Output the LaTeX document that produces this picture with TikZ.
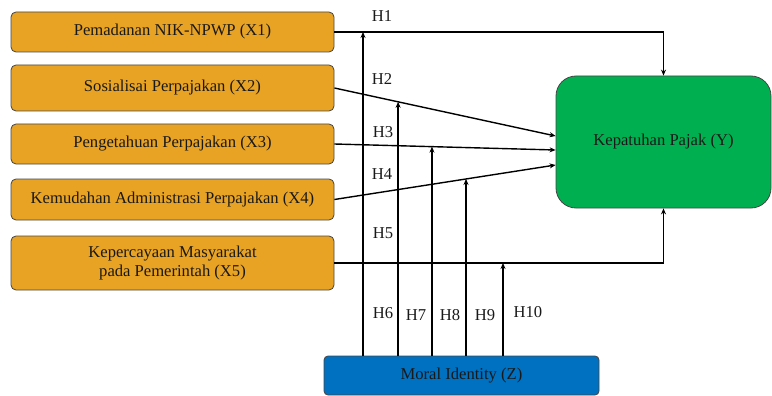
\documentclass[tikz,border=0pt]{standalone}
\usepackage{fontspec}
\setmainfont{Liberation Serif}
\usepackage{tikz}
\usetikzlibrary{positioning,arrows.meta,calc}
\definecolor{varorange}{RGB}{232,163,36}
\definecolor{depgreen}{RGB}{0,176,80}
\definecolor{modblue}{RGB}{0,112,192}
\definecolor{boxedge}{RGB}{70,70,70}
\tikzset{
  xbox/.style  = {draw=boxedge, line width=0.8pt, rounded corners=5pt, fill=varorange, align=center, minimum width=323pt, inner sep=2pt},
  ybox/.style  = {draw=boxedge, line width=0.8pt, rounded corners=20pt, fill=depgreen, minimum width=215pt, minimum height=132pt},
  zbox/.style  = {draw=boxedge, line width=0.8pt, rounded corners=4pt, fill=modblue, minimum width=275pt, minimum height=39pt},
  flow/.style  = {-{Stealth[length=6pt,width=5pt]}, line width=1.4pt, draw=black},
  hyp/.style   = {inner sep=0pt},
}

\begin{document}
\begin{tikzpicture}[x=1pt, y=-1pt, font=\rmfamily\fontsize{16.6}{19.5}\selectfont, text=black!90]
  \useasboundingbox (0,0) rectangle (772,396);
  % variables
  \node[xbox, minimum height=40pt] (x1) at (172.5,32) {Pemadanan NIK-NPWP (X1)};
  \node[xbox, minimum height=46pt] (x2) at (172.5,88) {Sosialisai Perpajakan (X2)};
  \node[xbox, minimum height=40pt] (x3) at (172.5,144) {Pengetahuan Perpajakan (X3)};
  \node[xbox, minimum height=41pt] (x4) at (172.5,199.5) {Kemudahan Administrasi Perpajakan (X4)};
  \node[xbox, minimum height=54pt] (x5) at (172.5,263) {Kepercayaan Masyarakat\\pada Pemerintah (X5)};
  \node[ybox] (y) at (663.5,142) {Kepatuhan Pajak (Y)};
  \node[zbox] (z) at (461.5,375.5) {Moral Identity (Z)};
  % direct paths
  \draw[flow] (x1.east) -| (y.north);
  \draw[flow] (x2.east) -- ([yshift=6pt]y.west);
  \draw[flow] (x3.east) -- ([yshift=-8pt]y.west);
  \draw[flow] (x4.east) -- ([yshift=-23pt]y.west);
  \draw[flow] (x5.east) -| (y.south);
  % moderation points
  \coordinate (m1) at (x1.east -| 363,0);
  \path (x2.east) -- ([yshift=6pt]y.west) coordinate[pos=0.288] (m2);
  \path (x3.east) -- ([yshift=-8pt]y.west) coordinate[pos=0.441] (m3);
  \path (x4.east) -- ([yshift=-23pt]y.west) coordinate[pos=0.595] (m4);
  \coordinate (m5) at (x5.east -| 503,0);
  \foreach \m in {m1,m2,m3,m4,m5}
    \draw[flow] (z.north -| \m) -- (\m);
  % hypothesis labels
  \node[hyp] (h1) at (382,16) {H1};
  \node[hyp] (h2) at (382,79) {H2};
  \node[hyp] (h3) at (383,132) {H3};
  \node[hyp] (h4) at (382,174) {H4};
  \node[hyp] (h5) at (383,233) {H5};
  \node[hyp] (h6) at (383,313) {H6};
  \node[hyp] (h7) at (416,315) {H7};
  \node[hyp] (h8) at (450,315) {H8};
  \node[hyp] (h9) at (485,315) {H9};
  \node[hyp] (h10) at (528,312) {H10};
\end{tikzpicture}
\end{document}
